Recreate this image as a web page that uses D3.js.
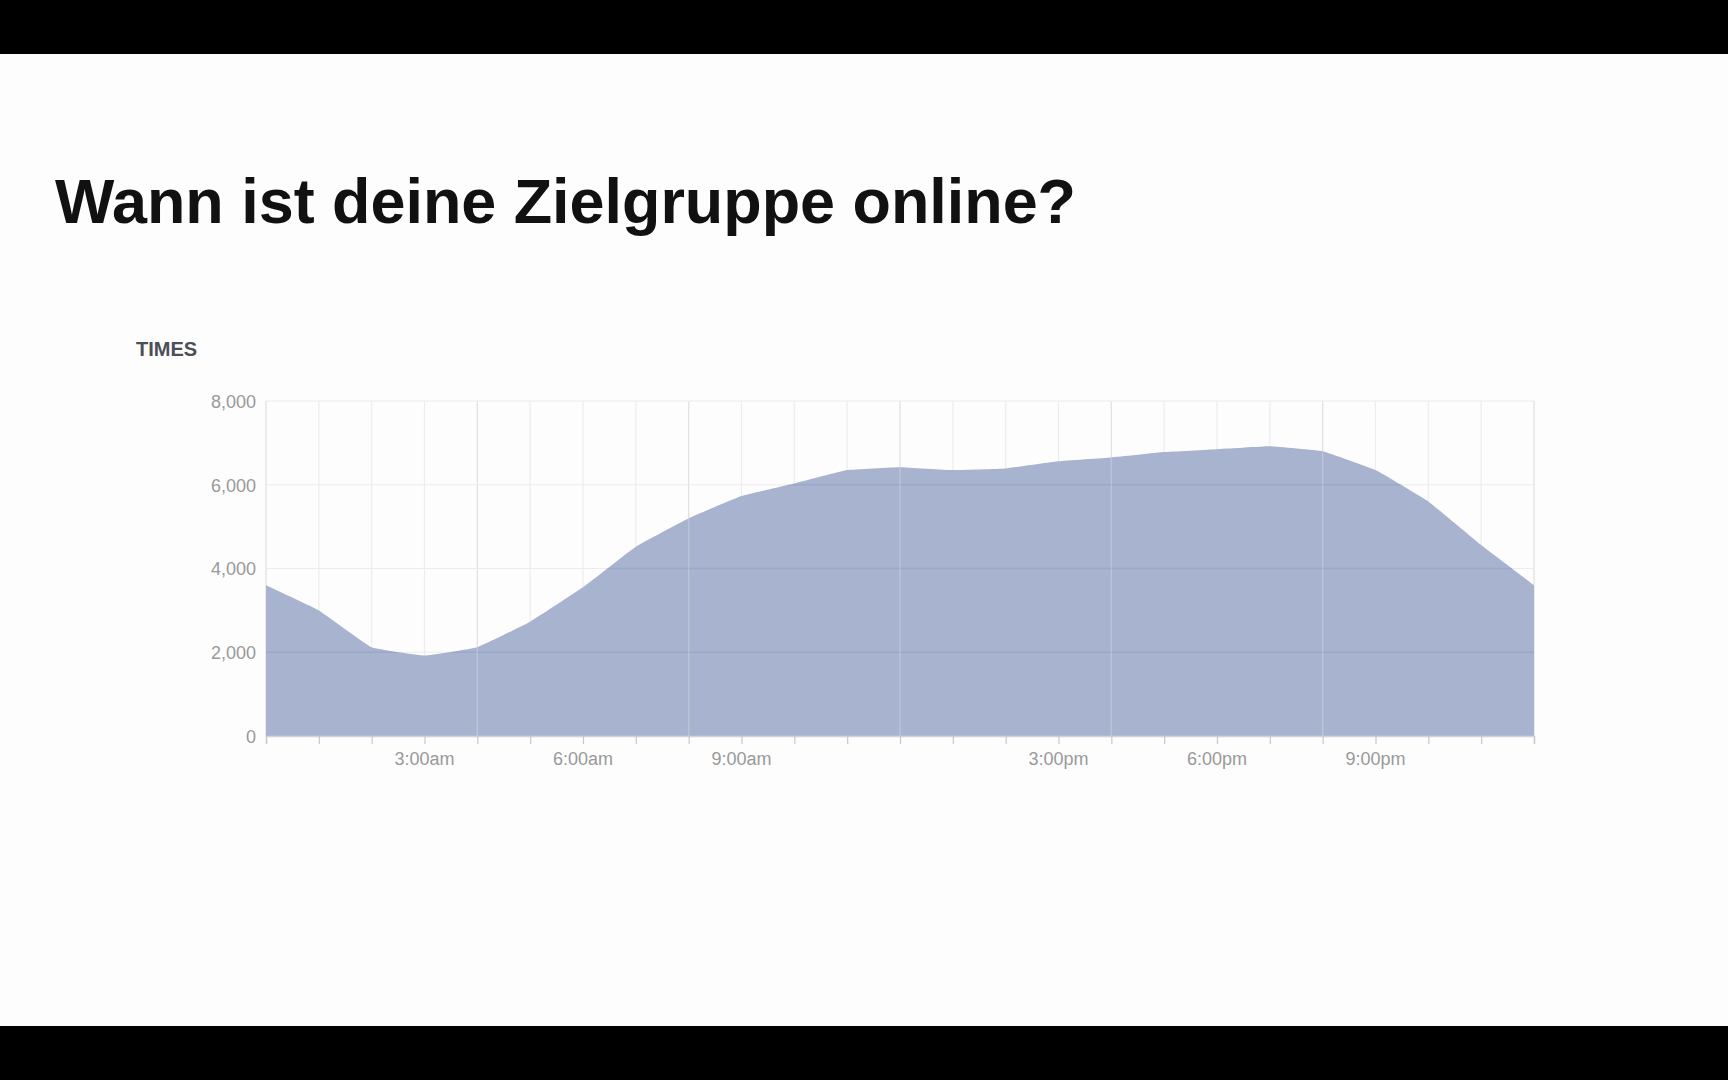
<!DOCTYPE html>
<html>
<head>
<meta charset="utf-8">
<script src="https://cdn.jsdelivr.net/npm/d3@7"></script>
<style>
  html, body { margin: 0; padding: 0; background: #fdfdfd; }
  svg { display: block; }
</style>
</head>
<body>
<svg id="chart" width="1728" height="1080"></svg>
<script>
const title = "Wann ist deine Zielgruppe online?";
const sectionLabel = "TIMES";
const hours = d3.range(0, 25);
const values = [3600, 3000, 2120, 1920, 2120, 2730, 3550, 4520, 5200, 5730, 6030, 6350, 6420, 6350, 6390, 6560, 6650, 6780, 6850, 6920, 6800, 6350, 5600, 4560, 3600];
const yTicks = [0, 2000, 4000, 6000, 8000];
const xLabelHours = [3, 6, 9, 15, 18, 21];
const xLabels = ["3:00am", "6:00am", "9:00am", "3:00pm", "6:00pm", "9:00pm"];

(function () {
const svg = d3.select("#chart");
const W = 1728, H = 1080;
const font = "Liberation Sans, Arial, Helvetica, sans-serif";

svg.append("rect").attr("x", 0).attr("y", 0).attr("width", W).attr("height", H).attr("fill", "#fdfdfd");
svg.append("rect").attr("x", 0).attr("y", 0).attr("width", W).attr("height", 54).attr("fill", "#000");
svg.append("rect").attr("x", 0).attr("y", 1026).attr("width", W).attr("height", 54).attr("fill", "#000");

svg.append("text")
  .attr("x", 55).attr("y", 223)
  .attr("font-family", font)
  .attr("font-weight", "bold")
  .attr("font-size", 63)
  .attr("fill", "#111")
  .attr("textLength", 1021)
  .attr("lengthAdjust", "spacingAndGlyphs")
  .text(title);

svg.append("text")
  .attr("x", 136).attr("y", 356)
  .attr("font-family", font)
  .attr("font-weight", "bold")
  .attr("font-size", 20)
  .attr("fill", "#4b4f56")
  .text(sectionLabel);

const pLeft = 266, pRight = 1534, pTop = 401, pBottom = 736;
const x = d3.scaleLinear().domain([0, 24]).range([pLeft, pRight]);
const y = d3.scaleLinear().domain([0, 8000]).range([pBottom, pTop]);

const g = svg.append("g");

// gridlines under area
hours.forEach(h => {
  g.append("line")
    .attr("x1", x(h)).attr("x2", x(h))
    .attr("y1", pTop).attr("y2", pBottom)
    .attr("stroke", h % 4 === 0 ? "#e0e0e0" : "#ededed")
    .attr("stroke-width", 1.2);
});
yTicks.forEach(t => {
  g.append("line")
    .attr("x1", pLeft).attr("x2", pRight)
    .attr("y1", y(t)).attr("y2", y(t))
    .attr("stroke", "#ececec")
    .attr("stroke-width", 1.2);
});

const area = d3.area()
  .x((d, i) => x(hours[i]))
  .y0(y(0))
  .y1(d => y(d))
  .curve(d3.curveCardinal.tension(0.75));

svg.append("clipPath").attr("id", "areaClip")
  .append("path").datum(values).attr("d", area);

g.append("path")
  .datum(values)
  .attr("d", area)
  .attr("fill", "#a8b3cf");

// gridlines over area (faint), clipped to the area
const over = g.append("g").attr("clip-path", "url(#areaClip)");
yTicks.filter(t => t > 0).forEach(t => {
  over.append("line")
    .attr("x1", pLeft).attr("x2", pRight)
    .attr("y1", y(t)).attr("y2", y(t))
    .attr("stroke", "#6f7fa8")
    .attr("stroke-opacity", 0.2)
    .attr("stroke-width", 1.5);
});
hours.filter(h => h % 4 === 0 && h > 0 && h < 24).forEach(h => {
  over.append("line")
    .attr("x1", x(h)).attr("x2", x(h))
    .attr("y1", pTop).attr("y2", pBottom)
    .attr("stroke", "#ffffff")
    .attr("stroke-opacity", 0.22)
    .attr("stroke-width", 1.5);
});

// x axis
const xAxis = d3.axisBottom(x)
  .tickValues(hours)
  .tickSize(8)
  .tickFormat("");
const xg = svg.append("g").attr("transform", `translate(0,${pBottom})`).call(xAxis);
xg.select(".domain").attr("stroke", "#cfd3dc").attr("stroke-width", 1.5);
xg.selectAll(".tick line").attr("stroke", "#c8c8c8").attr("stroke-width", 1.2);

svg.append("g").selectAll("text")
  .data(xLabelHours)
  .join("text")
  .attr("x", d => x(d))
  .attr("y", 765)
  .attr("text-anchor", "middle")
  .attr("font-family", font)
  .attr("font-size", 18)
  .attr("fill", "#999")
  .text((d, i) => xLabels[i]);

// y axis labels
const yAxis = d3.axisLeft(y)
  .tickValues(yTicks)
  .tickSize(0)
  .tickPadding(10)
  .tickFormat(d3.format(","));
const yg = svg.append("g").attr("transform", `translate(${pLeft},0)`).call(yAxis);
yg.select(".domain").remove();
yg.selectAll("text")
  .attr("font-family", font)
  .attr("font-size", 18)
  .attr("fill", "#999")
  .attr("dy", "0.35em");
})();
</script>
</body>
</html>
